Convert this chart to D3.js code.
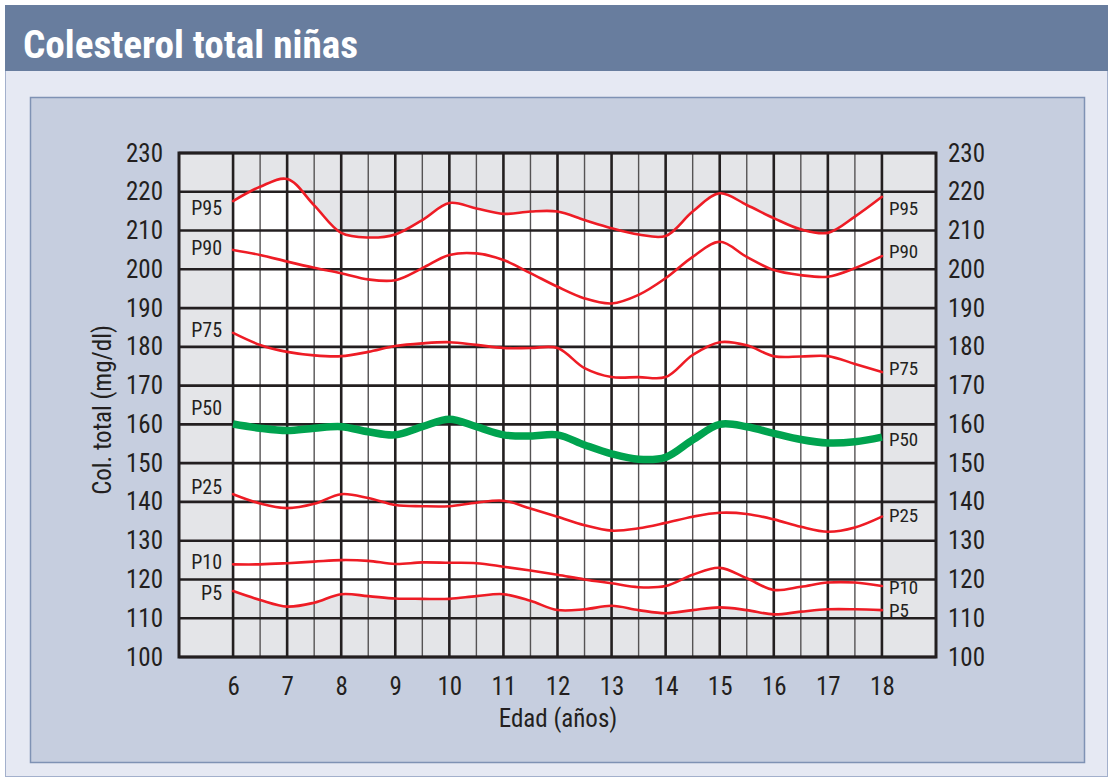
<!DOCTYPE html>
<html>
<head>
<meta charset="utf-8">
<script src="https://cdn.jsdelivr.net/npm/d3@7"></script>
<style>
html,body{margin:0;padding:0;background:#fff;}
svg{display:block;}
</style>
</head>
<body>
<svg id="chart" width="1108" height="779"></svg>
<script>
// ---------- DATA ----------
const title = "Colesterol total niñas";
const xTitle = "Edad (años)";
const yTitle = "Col. total (mg/dl)";
const ages = [6,6.5,7,7.5,8,8.5,9,9.5,10,10.5,11,11.5,12,12.5,13,13.5,14,14.5,15,15.5,16,16.5,17,17.5,18];
const xTicks = [6,7,8,9,10,11,12,13,14,15,16,17,18];
const yTicks = [100,110,120,130,140,150,160,170,180,190,200,210,220,230];
const p95 = [217.6,221.3,223.3,216.5,209.4,208.2,209.0,212.7,217.1,215.7,214.3,214.9,214.9,212.7,210.6,209.0,208.6,214.9,219.6,216.6,213.2,210.3,209.4,213.6,218.7];
const p90 = [205.0,203.7,202.0,200.4,199.0,197.4,197.2,200.3,203.7,204.1,202.4,199.0,195.5,192.5,191.2,193.4,197.7,203.2,207.1,203.2,199.8,198.5,198.1,200.3,203.4];
const p75 = [183.6,180.5,178.7,177.8,177.6,178.7,180.2,180.9,181.2,180.5,179.7,179.7,179.7,174.5,172.2,172.2,172.2,177.9,181.2,180.4,177.6,177.5,177.6,175.6,173.5];
const p50 = [160.1,159.0,158.4,159.0,159.4,158.1,157.3,159.4,161.3,159.4,157.3,157.0,157.3,154.7,152.4,151.0,151.5,156.0,160.0,159.4,157.7,156.1,155.2,155.5,156.7];
const p25 = [142.0,139.6,138.4,139.5,142.0,141.0,139.2,138.9,138.9,139.8,140.3,138.3,136.2,134.0,132.6,133.2,134.6,136.2,137.2,136.9,135.5,133.6,132.3,133.4,136.2];
const p10 = [123.9,123.9,124.2,124.6,125.0,124.8,124.0,124.4,124.3,124.2,123.3,122.3,121.2,120.0,119.0,118.0,118.3,121.2,123.0,120.3,117.3,118.1,119.2,119.2,118.3];
const p5  = [117.0,114.7,113.0,114.0,116.2,115.7,115.1,115.0,115.0,115.7,116.2,114.5,112.1,112.3,113.2,112.1,111.3,112.1,112.8,112.1,111.0,111.7,112.3,112.3,112.1];
const seriesNames = ["P95","P90","P75","P50","P25","P10","P5"];
// label anchor values (mg/dl) for the side labels
const leftLabelAt  = [215.8,205.5,184.3,164.2,143.8,124.5,116.5];
const rightLabelAt = [215.8,204.5,174.3,156.0,136.6,117.9,111.9];

// ---------- LAYOUT ----------
const svg = d3.select("#chart");
const narrow = "'Liberation Sans Narrow','Arial Narrow','Roboto Condensed',sans-serif";
const plot = {left:179, right:936, top:153, bottom:657};

const x = d3.scaleLinear().domain([5,19]).range([plot.left, plot.right]);
const y = d3.scaleLinear().domain([100,230]).range([plot.bottom, plot.top]);

// frame
svg.append("rect").attr("x",5.5).attr("y",5.5).attr("width",1102).attr("height",771)
  .attr("fill","#e6e9f3").attr("stroke","#a3b0cc").attr("stroke-width",1);
svg.append("rect").attr("x",5).attr("y",5).attr("width",1103).attr("height",66).attr("fill","#687d9e");
svg.append("text").attr("x",23).attr("y",58).text(title)
  .attr("fill","#fff").attr("font-family",narrow).attr("font-weight","bold")
  .attr("font-size",39).attr("textLength",335).attr("lengthAdjust","spacingAndGlyphs");
svg.append("rect").attr("x",30.5).attr("y",97.5).attr("width",1054).attr("height",665)
  .attr("fill","#c6cedf").attr("stroke","#7f92b4").attr("stroke-width",1.5);

// plot background (grey), white band between P5 and P95
svg.append("rect").attr("x",plot.left).attr("y",plot.top)
  .attr("width",plot.right-plot.left).attr("height",plot.bottom-plot.top).attr("fill","#e4e5e8");

const curve = d3.curveCatmullRom.alpha(0.5);
const band = d3.area().x((d,i)=>x(ages[i])).y0((d,i)=>y(p5[i])).y1((d,i)=>y(p95[i])).curve(curve);
svg.append("path").datum(ages).attr("d",band).attr("fill","#ffffff");

// grid
const g = svg.append("g");
const halfTicks = d3.range(6.5,18,1);
g.selectAll("line.vthin").data(halfTicks).join("line")
  .attr("x1",d=>x(d)).attr("x2",d=>x(d)).attr("y1",plot.top).attr("y2",plot.bottom)
  .attr("stroke","#555354").attr("stroke-width",1.4);
g.selectAll("line.vthick").data(xTicks).join("line")
  .attr("x1",d=>x(d)).attr("x2",d=>x(d)).attr("y1",plot.top).attr("y2",plot.bottom)
  .attr("stroke","#231f20").attr("stroke-width",2.6);
g.selectAll("line.h").data(yTicks).join("line")
  .attr("x1",plot.left).attr("x2",plot.right).attr("y1",d=>y(d)).attr("y2",d=>y(d))
  .attr("stroke","#231f20").attr("stroke-width",2.6);
svg.append("rect").attr("x",plot.left).attr("y",plot.top)
  .attr("width",plot.right-plot.left).attr("height",plot.bottom-plot.top)
  .attr("fill","none").attr("stroke","#231f20").attr("stroke-width",3);

// curves
const line = d3.line().x((d,i)=>x(ages[i])).y(d=>y(d)).curve(curve);
const allSeries = [p95,p90,p75,p50,p25,p10,p5];
allSeries.forEach((s,k)=>{
  if (seriesNames[k]==="P50") return;
  svg.append("path").datum(s).attr("d",line).attr("fill","none")
    .attr("stroke","#ee1c25").attr("stroke-width",2.6).attr("stroke-linecap","round");
});
svg.append("path").datum(p50).attr("d",line).attr("fill","none")
  .attr("stroke","#00a34f").attr("stroke-width",7.5).attr("stroke-linecap","butt");

// side labels
seriesNames.forEach((n,k)=>{
  svg.append("text").attr("x",x(6)-11).attr("y",y(leftLabelAt[k])).text(n)
    .attr("text-anchor","end").attr("dominant-baseline","central")
    .attr("font-family",narrow).attr("font-size",20).attr("fill","#231f20");
  svg.append("text").attr("x",x(18)+7).attr("y",y(rightLabelAt[k])).text(n)
    .attr("text-anchor","start").attr("dominant-baseline","central")
    .attr("font-family",narrow).attr("font-size",19).attr("fill","#231f20");
});

// axes
function styleAxis(sel){
  sel.select(".domain").remove();
  sel.selectAll(".tick line").remove();
  sel.selectAll("text").attr("font-family",narrow).attr("font-size",25).attr("fill","#231f20");
}
svg.append("g").attr("transform",`translate(${plot.left-16},0)`)
  .call(d3.axisLeft(y).tickValues(yTicks).tickSize(0).tickPadding(0).tickFormat(d3.format("d")))
  .call(styleAxis);
svg.append("g").attr("transform",`translate(${plot.right+12},0)`)
  .call(d3.axisRight(y).tickValues(yTicks).tickSize(0).tickPadding(0).tickFormat(d3.format("d")))
  .call(styleAxis);
svg.append("g").attr("transform",`translate(0,${plot.bottom+20})`)
  .call(d3.axisBottom(x).tickValues(xTicks).tickSize(0).tickPadding(0).tickFormat(d3.format("d")))
  .call(styleAxis);

svg.append("text").attr("x",558).attr("y",727).text(xTitle).attr("text-anchor","middle")
  .attr("font-family",narrow).attr("font-size",25).attr("fill","#231f20");
svg.append("text").attr("transform","translate(111,410) rotate(-90)").text(yTitle)
  .attr("text-anchor","middle")
  .attr("font-family",narrow).attr("font-size",25).attr("fill","#231f20");
</script>
</body>
</html>
